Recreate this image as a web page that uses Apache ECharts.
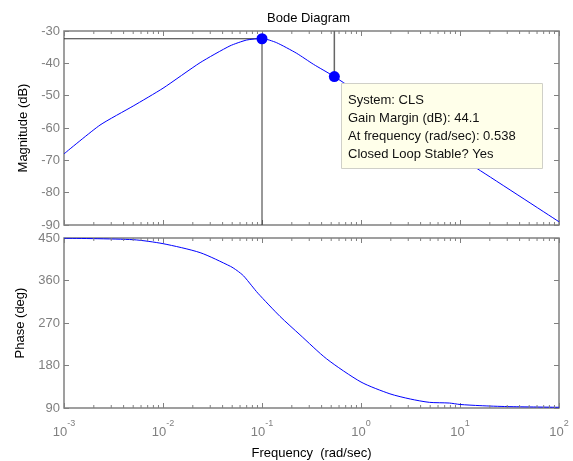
<!DOCTYPE html>
<html lang="en">
<head>
<meta charset="UTF-8">
<title>Bode Diagram</title>
<style>
html,body{margin:0;padding:0;background:#fff}
#chart{width:573px;height:461px}
</style>
</head>
<body>
<div id="chart"></div>
<script src="https://cdn.jsdelivr.net/npm/echarts@6/dist/echarts.min.js"></script>
<script>
// magnitude curve (rad/sec, dB)
var magFreq = [0.001, 0.00231, 0.005, 0.01, 0.0237, 0.0475, 0.0699, 0.1, 0.14, 0.224, 0.331, 0.538, 1, 2, 5, 14.8, 100];
var magDb   = [-68.0, -59.1, -53.2, -47.7, -39.8, -34.6, -32.8, -32.3, -33.6, -36.9, -40.3, -44.1, -49.6, -55.6, -63.5, -72.5, -89.0];
// phase curve (rad/sec, deg)
var phaseFreq = [0.001, 0.005, 0.01, 0.0237, 0.048, 0.056, 0.065, 0.078, 0.091, 0.152, 0.242, 0.45, 1, 1.96, 3.15, 4.9, 7.8, 10, 15.9, 30, 100];
var phaseDeg  = [449.5, 446.4, 438, 419, 390, 381, 370, 350, 333, 284, 245, 194, 145, 120, 109, 102, 100.5, 97.5, 95, 93, 91.5];

var peakPt = [0.1, -32.4];
var marginPt = [0.538, -44.1];
var infoLines = ['System: CLS', 'Gain Margin (dB): 44.1', 'At frequency (rad/sec): 0.538', 'Closed Loop Stable? Yes'];

var magRange = [-90, -30];
var phaseRange = [90, 450];
var freqRange = [0.001, 100];
var decades = [0.001, 0.01, 0.1, 1, 10];
var minorSteps = [2, 3, 4, 5, 6, 7, 8, 9];

var FONT = 'Liberation Sans, Arial, sans-serif';
var GRAY = '#808080';

function zip(a, b) {
    var out = [];
    for (var i = 0; i < a.length; i++) out.push([a[i], b[i]]);
    return out;
}

var minorVals = [];
decades.forEach(function (d) {
    minorSteps.forEach(function (m) { minorVals.push(d * m); });
});

function minorTicks(gridIdx, yr) {
    return {
        type: 'custom',
        xAxisIndex: gridIdx * 2,
        yAxisIndex: gridIdx * 2,
        silent: true,
        clip: false,
        z: 5,
        data: minorVals.map(function (v) { return [v, yr[0]]; }),
        renderItem: function (params, api) {
            var b = api.coord([api.value(0), yr[0]]);
            var t = api.coord([api.value(0), yr[1]]);
            var st = {stroke: GRAY, lineWidth: 1};
            return {
                type: 'group',
                children: [
                    {type: 'line', shape: {x1: b[0], y1: b[1], x2: b[0], y2: b[1] - 3}, style: st},
                    {type: 'line', shape: {x1: t[0], y1: t[1], x2: t[0], y2: t[1] + 3}, style: st}
                ]
            };
        }
    };
}

function xAx(gridIdx, pos, labels) {
    var ax = {
        type: 'log', logBase: 10, gridIndex: gridIdx, position: pos,
        min: freqRange[0], max: freqRange[1],
        axisLine: {show: false},
        axisTick: {show: true, inside: true, length: 5, lineStyle: {color: GRAY}},
        splitLine: {show: false},
        axisLabel: {show: false}
    };
    if (labels) {
        ax.axisLabel = {
            show: true, margin: 11, color: GRAY,
            formatter: function (v) {
                return '{b|10}{e|' + Math.round(Math.log10(v)) + '}';
            },
            rich: {
                b: {fontSize: 13, fontFamily: FONT, color: GRAY, lineHeight: 20, verticalAlign: 'bottom'},
                e: {fontSize: 9, fontFamily: FONT, color: GRAY, lineHeight: 20, verticalAlign: 'top'}
            }
        };
        ax.name = 'Frequency  (rad/sec)';
        ax.nameLocation = 'middle';
        ax.nameGap = 39;
        ax.nameTextStyle = {fontSize: 13, fontFamily: FONT, color: '#000'};
    }
    return ax;
}

function yAx(gridIdx, pos, range, step, name) {
    var ax = {
        type: 'value', gridIndex: gridIdx, position: pos,
        min: range[0], max: range[1], interval: step,
        axisLine: {show: false},
        axisTick: {show: true, inside: true, length: 5, lineStyle: {color: GRAY}},
        splitLine: {show: false},
        axisLabel: {show: false}
    };
    if (name) {
        ax.axisLabel = {show: true, margin: 4, color: GRAY, fontSize: 13, fontFamily: FONT};
        ax.name = name;
        ax.nameLocation = 'middle';
        ax.nameGap = 33;
        ax.nameTextStyle = {fontSize: 13, fontFamily: FONT, color: '#000'};
    }
    return ax;
}

var chart = echarts.init(document.getElementById('chart'));
chart.setOption({
    animation: false,
    backgroundColor: '#fff',
    grid: [
        {left: 64, top: 31, width: 495, height: 194, show: true, borderColor: GRAY, borderWidth: 1.5, backgroundColor: 'transparent'},
        {left: 64, top: 238, width: 495, height: 170, show: true, borderColor: GRAY, borderWidth: 1.5, backgroundColor: 'transparent'}
    ],
    xAxis: [xAx(0, 'bottom', false), xAx(0, 'top', false), xAx(1, 'bottom', true), xAx(1, 'top', false)],
    yAxis: [
        yAx(0, 'left', magRange, 10, 'Magnitude (dB)'),
        yAx(0, 'right', magRange, 10, null),
        yAx(1, 'left', phaseRange, 90, 'Phase (deg)'),
        yAx(1, 'right', phaseRange, 90, null)
    ],
    series: [
        {
            type: 'line', xAxisIndex: 0, yAxisIndex: 0,
            data: [[freqRange[0], peakPt[1]], peakPt, [peakPt[0], magRange[0]]],
            symbol: 'none', silent: true, z: 2,
            lineStyle: {color: '#333', width: 1}
        },
        {
            type: 'line', xAxisIndex: 0, yAxisIndex: 0,
            data: [[marginPt[0], magRange[1]], marginPt],
            symbol: 'none', silent: true, z: 2,
            lineStyle: {color: '#666', width: 1.5}
        },
        {
            type: 'line', xAxisIndex: 0, yAxisIndex: 0,
            data: zip(magFreq, magDb),
            smooth: 0.2, symbol: 'none', z: 3,
            lineStyle: {color: '#0000ff', width: 1}
        },
        {
            type: 'scatter', xAxisIndex: 0, yAxisIndex: 0,
            data: [peakPt, marginPt],
            symbolSize: 11, z: 4,
            itemStyle: {color: '#0000ff', opacity: 1}
        },
        {
            type: 'line', xAxisIndex: 2, yAxisIndex: 2,
            data: zip(phaseFreq, phaseDeg),
            smooth: 0.25, symbol: 'none', z: 3,
            lineStyle: {color: '#0000ff', width: 1}
        },
        minorTicks(0, magRange),
        minorTicks(1, phaseRange)
    ],
    graphic: [
        {
            type: 'text', left: 311 - 44, top: 12, z: 10,
            style: {text: 'Bode Diagram', fontSize: 13, fontFamily: FONT, fill: '#000'}
        },
        {
            type: 'rect', left: 341, top: 83, z: 10,
            shape: {width: 201, height: 85},
            style: {fill: '#ffffea', stroke: '#d0d0c8', lineWidth: 1}
        },
        {
            type: 'text', left: 348, top: 91, z: 11,
            style: {text: infoLines.join('\n'), fontSize: 13, lineHeight: 18, fontFamily: FONT, fill: '#111'}
        }
    ]
});
</script>
</body>
</html>
